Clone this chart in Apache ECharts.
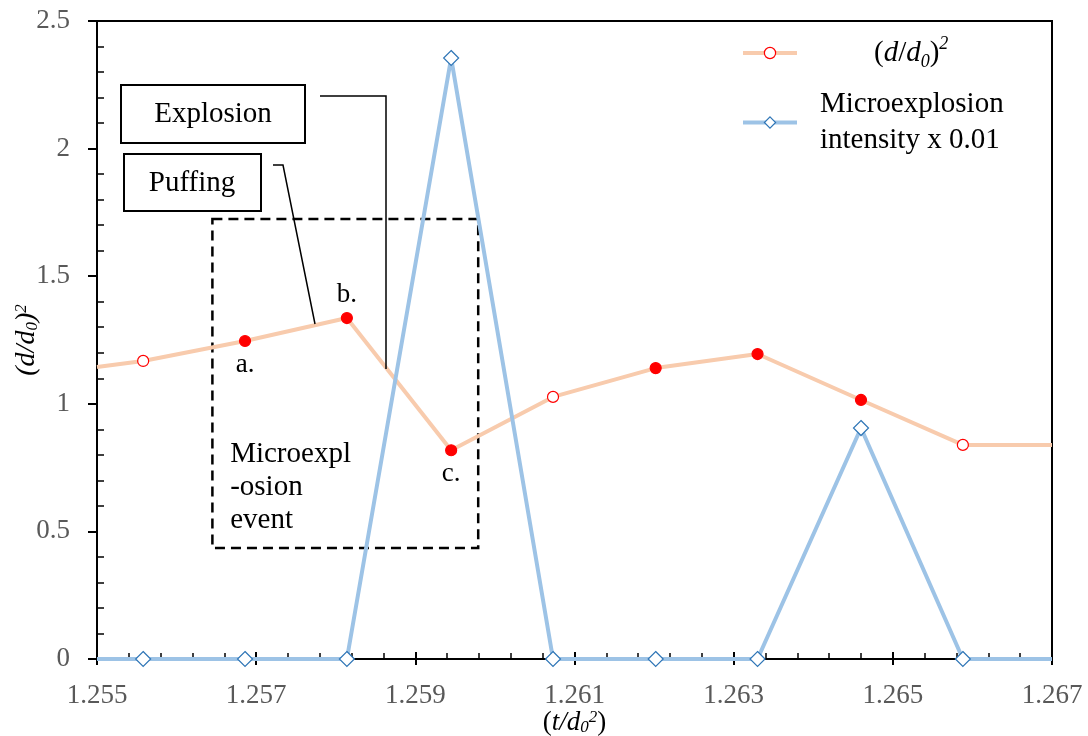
<!DOCTYPE html>
<html>
<head>
<meta charset="utf-8">
<script src="https://cdn.jsdelivr.net/npm/echarts@6/dist/echarts.min.js"></script>
<style>
  html, body { margin: 0; padding: 0; background: #fff; }
  #chart { width: 1088px; height: 736px; }
</style>
</head>
<body>
<div id="chart"></div>
<script>
// time axis (t/d0^2) and the two measured series
const timeVals = [1.255, 1.25558, 1.25686, 1.25814, 1.25945, 1.26073, 1.26202, 1.26330, 1.26460, 1.26588, 1.267];
const diamRatio = [1.144, 1.168, 1.246, 1.336, 0.818, 1.027, 1.140, 1.195, 1.015, 0.839, 0.839];
const intensity = [0, 0, 0, 0, 2.355, 0, 0, 0, 0.905, 0, 0];
// which points carry a marker, which ones are filled red
const hasMarker = [0, 1, 1, 1, 1, 1, 1, 1, 1, 1, 0];
const isFilled = [0, 0, 1, 1, 1, 0, 1, 1, 1, 0, 0];
const pointTags = ['', '', 'a.', 'b.', 'c.', '', '', '', '', '', ''];
const tagSide = ['', '', 'bottom', 'top', 'bottom', '', '', '', '', '', ''];
// dashed "event" box, in data units
const eventBox = [[1.25645, 1.724], [1.25979, 0.435]];

const SERIF = '"Liberation Serif", "Times New Roman", serif';
const NAME_D = '(d/d0)^2';
const NAME_MX = 'Microexplosion intensity x 0.01';
const ORANGE = '#f8cbad';
const BLUE = '#9dc3e6';

const chart = echarts.init(document.getElementById('chart'));

const dData = timeVals.map((t, i) => ({
  value: [t, diamRatio[i]],
  symbol: hasMarker[i] ? 'circle' : 'none',
  itemStyle: { color: isFilled[i] ? '#ff0000' : '#ffffff', borderColor: '#ff0000', borderWidth: 1.2 },
  label: pointTags[i] ? { show: true, formatter: pointTags[i], position: tagSide[i], distance: 4 } : { show: false }
}));

const mxData = timeVals.map((t, i) => ({
  value: [t, intensity[i]],
  symbol: hasMarker[i] ? 'diamond' : 'none'
}));

const mathRich = (size) => ({
  i: { fontFamily: SERIF, fontStyle: 'italic', fontSize: size, color: '#000' },
  n: { fontFamily: SERIF, fontSize: size, color: '#000' },
  sb: { fontFamily: SERIF, fontStyle: 'italic', fontSize: Math.round(size * 0.62), color: '#000', verticalAlign: 'bottom' },
  sp: { fontFamily: SERIF, fontStyle: 'italic', fontSize: Math.round(size * 0.62), color: '#000', verticalAlign: 'top' }
});

const option = {
  animation: false,
  backgroundColor: '#fff',
  grid: {
    left: 97, right: 36, top: 21, bottom: 77,
    containLabel: false, outerBoundsMode: 'none',
    show: true, borderColor: '#000', borderWidth: 2
  },
  legend: {
    orient: 'vertical',
    left: 736,
    top: 30,
    itemWidth: 54,
    itemHeight: 14,
    itemGap: 19,
    data: [
      {
        name: NAME_D,
        itemStyle: { color: '#ffffff', borderColor: '#ff0000', borderWidth: 1.2 },
        lineStyle: { color: ORANGE, width: 4, type: 'solid' }
      },
      {
        name: NAME_MX,
        itemStyle: { color: '#ffffff', borderColor: '#2e75b6', borderWidth: 1.2 },
        lineStyle: { color: BLUE, width: 4, type: 'solid' }
      }
    ],
    formatter: (name) => name === NAME_D
      ? '{n0|(}{i|d}{n|/}{i|d}{sb|0}{n|)}{sp|2}'
      : '{t|Microexplosion\nintensity x 0.01}',
    textStyle: {
      fontFamily: SERIF,
      fontSize: 29,
      color: '#000',
      rich: Object.assign(mathRich(29), {
        n0: { fontFamily: SERIF, fontSize: 29, color: '#000', padding: [0, 0, 0, 72], lineHeight: 36 },
        t: { fontFamily: SERIF, fontSize: 29, color: '#000', lineHeight: 36, padding: [0, 0, 0, 18] }
      })
    }
  },
  xAxis: [
    {
      type: 'value',
      min: 1.255,
      max: 1.267,
      interval: 0.002,
      name: '{n|(}{i|t/d}{sb|0}{sp|2}{n|)}',
      nameLocation: 'middle',
      nameGap: 50,
      nameMoveOverlap: false,
      nameTextStyle: { rich: mathRich(27) },
      axisLine: { lineStyle: { color: '#000', width: 2 } },
      axisTick: { inside: true, length: 7, lineStyle: { color: '#000', width: 2 } },
      minorTick: { show: true, splitNumber: 5, length: 6, lineStyle: { color: '#000', width: 1.5 } },
      axisLabel: {
        margin: 23,
        fontFamily: SERIF,
        fontSize: 27,
        color: '#595959',
        formatter: (v) => v.toFixed(3)
      },
      splitLine: { show: false }
    },
    {
      // outward half of the major ticks
      type: 'value',
      position: 'bottom',
      min: 1.255,
      max: 1.267,
      interval: 0.002,
      axisLine: { show: false },
      axisTick: { inside: false, length: 6, lineStyle: { color: '#000', width: 2 } },
      axisLabel: { show: false },
      splitLine: { show: false }
    }
  ],
  yAxis: [
    {
      type: 'value',
      min: 0,
      max: 2.5,
      interval: 0.5,
      name: '{i|(d/d}{sb|0}{i|)}{sp|2}',
      nameLocation: 'middle',
      nameGap: 56,
      nameMoveOverlap: false,
      nameTextStyle: { rich: mathRich(28) },
      axisLine: { show: true, lineStyle: { color: '#000', width: 2 } },
      axisTick: { show: true, inside: false, length: 9, lineStyle: { color: '#000', width: 2 } },
      axisLabel: { margin: 27, fontFamily: SERIF, fontSize: 27, color: '#595959' },
      splitLine: { show: false }
    },
    {
      // inward minor ticks
      type: 'value',
      position: 'left',
      min: 0,
      max: 2.5,
      interval: 0.5,
      axisLine: { show: false },
      axisTick: { show: false, inside: true },
      minorTick: { show: true, splitNumber: 5, length: 7, lineStyle: { color: '#000', width: 1.5 } },
      axisLabel: { show: false },
      splitLine: { show: false }
    }
  ],
  series: [
    {
      name: NAME_D,
      type: 'line',
      data: dData,
      symbol: 'circle',
      symbolSize: 11,
      lineStyle: { color: ORANGE, width: 4, type: 'solid' },
      itemStyle: { color: '#ffffff', borderColor: '#ff0000', borderWidth: 1.2 },
      label: { fontFamily: SERIF, fontSize: 27, color: '#000' },
      z: 3,
      markArea: {
        silent: true,
        itemStyle: { color: 'rgba(255,255,255,0)', borderColor: '#000', borderWidth: 2.5, borderType: [10, 6] },
        label: {
          show: true,
          position: 'insideBottomLeft',
          distance: 0,
          padding: [0, 0, 12, 19],
          formatter: 'Microexpl\n-osion\nevent',
          fontFamily: SERIF,
          fontSize: 29,
          lineHeight: 33,
          color: '#000'
        },
        data: [[{ coord: eventBox[0] }, { coord: eventBox[1] }]]
      }
    },
    {
      name: NAME_MX,
      type: 'line',
      data: mxData,
      symbol: 'diamond',
      symbolSize: 15,
      lineStyle: { color: BLUE, width: 4, type: 'solid' },
      itemStyle: { color: '#ffffff', borderColor: '#2e75b6', borderWidth: 1.2 },
      z: 4
    }
  ],
  graphic: [
    { type: 'rect', shape: { x: 121, y: 85, width: 184, height: 58 }, style: { fill: '#fff', stroke: '#000', lineWidth: 2 }, z: 10 },
    { type: 'text', x: 213, y: 114, style: { text: 'Explosion', font: '29px ' + SERIF, fill: '#000', align: 'center', verticalAlign: 'middle' }, z: 11 },
    { type: 'rect', shape: { x: 124, y: 154, width: 137, height: 57 }, style: { fill: '#fff', stroke: '#000', lineWidth: 2 }, z: 10 },
    { type: 'text', x: 192, y: 183, style: { text: 'Puffing', font: '29px ' + SERIF, fill: '#000', align: 'center', verticalAlign: 'middle' }, z: 11 },
    { type: 'polyline', shape: { points: [[320, 96], [386, 96], [386, 369]] }, style: { stroke: '#000', lineWidth: 1.5, fill: null }, z: 10 },
    { type: 'polyline', shape: { points: [[273, 165], [283, 165], [315, 324]] }, style: { stroke: '#000', lineWidth: 1.5, fill: null }, z: 10 }
  ]
};

chart.setOption(option);
</script>
</body>
</html>
